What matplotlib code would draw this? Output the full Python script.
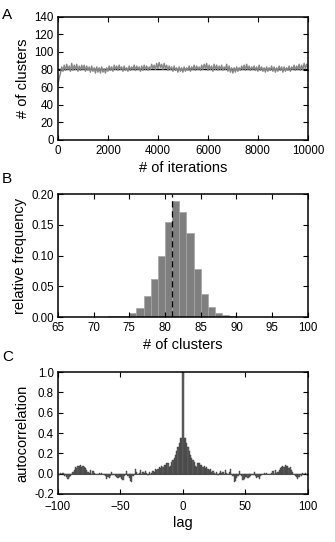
import numpy as np
import matplotlib
matplotlib.use("Agg")
from matplotlib import pyplot as plt
from matplotlib.ticker import FormatStrFormatter

# panel A: number of clusters along the chain (one value every 50 iterations)
trace_clusters = [
    64, 70, 76, 83, 78, 85, 79, 86, 80, 84, 78, 87, 79, 85, 80, 86, 78, 84, 79, 85,
    80, 85, 78, 84, 79, 83, 77, 84, 78, 82, 76, 83, 77, 82, 76, 83, 77, 81, 76, 82,
    78, 84, 79, 83, 78, 85, 80, 84, 79, 85, 80, 83, 78, 84, 79, 82, 78, 84, 79, 83,
    80, 85, 79, 84, 80, 83, 78, 84, 79, 85, 80, 84, 79, 83, 80, 86, 81, 85, 80, 87,
    81, 88, 82, 86, 80, 87, 81, 85, 79, 84, 80, 83, 78, 84, 79, 82, 77, 83, 78, 82,
    77, 83, 78, 82, 79, 84, 78, 83, 80, 85, 79, 84, 80, 83, 79, 85, 80, 86, 81, 87,
    79, 85, 80, 84, 78, 86, 80, 85, 79, 84, 80, 85, 79, 83, 80, 86, 78, 84, 77, 82,
    76, 82, 77, 83, 78, 82, 79, 84, 80, 85, 79, 86, 80, 84, 79, 83, 80, 84, 79, 83,
    78, 85, 79, 83, 78, 82, 77, 83, 78, 82, 79, 84, 78, 83, 77, 82, 78, 84, 79, 83,
    77, 83, 78, 82, 79, 84, 78, 83, 80, 85, 79, 84, 80, 86, 79, 85, 80, 87, 81, 86, 82,
]
trace_step = 50
mean_clusters = 81

# panel B: relative frequency of the number of clusters
hist_bins = [72, 73, 74, 75, 76, 77, 78, 79, 80, 81, 82, 83, 84, 85, 86, 87, 88, 89]
hist_freq = [0.001, 0.001, 0.002, 0.006, 0.015, 0.034, 0.062, 0.100, 0.154, 0.189,
             0.171, 0.136, 0.078, 0.037, 0.016, 0.0065, 0.003, 0.001]

# panel C: autocorrelation for lags 1..100 (symmetric around lag 0)
acf_pos = [
    0.35, 0.35, 0.30, 0.26, 0.22, 0.18, 0.15, 0.13, 0.11, 0.08,
    0.07, 0.10, 0.10, 0.09, 0.09, 0.07, 0.08, 0.06, 0.07, 0.05,
    0.04, 0.05, 0.02, 0.03, 0.01, 0.00, 0.02, -0.01, 0.01, 0.03,
    0.01, 0.02, 0.00, 0.04, 0.01, 0.00, 0.02, 0.05, 0.00, -0.02,
    -0.08, -0.07, -0.04, -0.02, 0.03, 0.00, -0.02, -0.06, -0.05, -0.03,
    -0.03, -0.04, -0.03, -0.02, 0.00, -0.01, 0.02, -0.02, -0.04, -0.03,
    -0.05, -0.02, -0.01, 0.00, 0.01, 0.00, 0.01, 0.00, 0.00, 0.00,
    0.01, 0.03, 0.00, 0.04, 0.01, 0.02, 0.04, 0.06, 0.07, 0.08,
    0.07, 0.09, 0.08, 0.08, 0.06, 0.07, 0.04, 0.02, 0.00, -0.02,
    -0.03, -0.05, -0.03, -0.01, -0.02, 0.01, 0.00, 0.01, -0.01, 0.00,
]
acf_zero = 1.0

plt.rcParams['font.family'] = ['Liberation Sans', 'DejaVu Sans']
plt.rcParams['font.size'] = 8.3
plt.rcParams['xtick.direction'] = 'in'
plt.rcParams['ytick.direction'] = 'in'
plt.rcParams['xtick.top'] = True
plt.rcParams['ytick.right'] = True
plt.rcParams['xtick.major.size'] = 3.5
plt.rcParams['ytick.major.size'] = 3.5
plt.rcParams['axes.linewidth'] = 1.1
plt.rcParams['axes.unicode_minus'] = True

fig = plt.figure(figsize=(3.35, 5.42), dpi=100)
label_size = 10.5

#A: trace
axA = fig.add_axes([0.173, 0.742, 0.746, 0.227])
iterations = np.arange(len(trace_clusters)) * trace_step
axA.axhline(mean_clusters, color='black', lw=1.0, zorder=1)
axA.plot(iterations, trace_clusters, color='#858585', lw=1.0, zorder=2)
axA.set_xlim(0, 10000)
axA.set_ylim(0, 140)
axA.set_xticks(np.arange(0, 10001, 2000))
axA.set_yticks(np.arange(0, 141, 20))
axA.set_xlabel("# of iterations", fontsize=label_size, labelpad=3)
axA.set_ylabel("# of clusters", fontsize=label_size, labelpad=3)

#B: histogram
axB = fig.add_axes([0.173, 0.415, 0.746, 0.227])
axB.bar(hist_bins, hist_freq, width=1.0, align='edge', color='#7f7f7f',
        edgecolor='#a5a5a5', linewidth=0.5)
axB.axvline(mean_clusters, color='black', lw=0.9, ls=(0, (5, 3)))
axB.set_xlim(65, 100)
axB.set_ylim(0, 0.20)
axB.set_xticks(np.arange(65, 101, 5))
axB.set_yticks([0.0, 0.05, 0.10, 0.15, 0.20])
axB.yaxis.set_major_formatter(FormatStrFormatter('%.2f'))
axB.set_xlabel("# of clusters", fontsize=label_size, labelpad=3)
axB.set_ylabel("relative frequency", fontsize=label_size, labelpad=3)

#C: autocorrelation
axC = fig.add_axes([0.173, 0.0886, 0.746, 0.225])
acf = np.concatenate([acf_pos[::-1], [acf_zero], acf_pos])
lags = np.arange(-len(acf_pos), len(acf_pos) + 1)
axC.axhline(0, color='#555555', lw=0.8, zorder=1)
axC.bar(lags, acf, width=1.0, color='#606060', edgecolor='#3a3a3a',
        linewidth=0.3, zorder=2)
axC.set_xlim(-100, 100)
axC.set_ylim(-0.2, 1.0)
axC.set_xticks([-100, -50, 0, 50, 100])
axC.set_yticks(np.arange(-0.2, 1.01, 0.2))
axC.yaxis.set_major_formatter(FormatStrFormatter('%.1f'))
axC.set_xlabel("lag", fontsize=label_size, labelpad=2)
axC.set_ylabel("autocorrelation", fontsize=label_size, labelpad=3)

for ax in (axA, axB):
    ax.tick_params(axis='x', pad=3.5)
    ax.tick_params(axis='y', pad=3)
# push the lag tick labels down a bit so -100 clears -0.2
axC.tick_params(axis='x', pad=5)
axC.tick_params(axis='y', pad=3)

fig.text(0.006, 0.985, "A", fontsize=11, va='top')
fig.text(0.006, 0.682, "B", fontsize=11, va='top')
fig.text(0.006, 0.355, "C", fontsize=11, va='top')

fig.savefig("out.png", dpi=100)
